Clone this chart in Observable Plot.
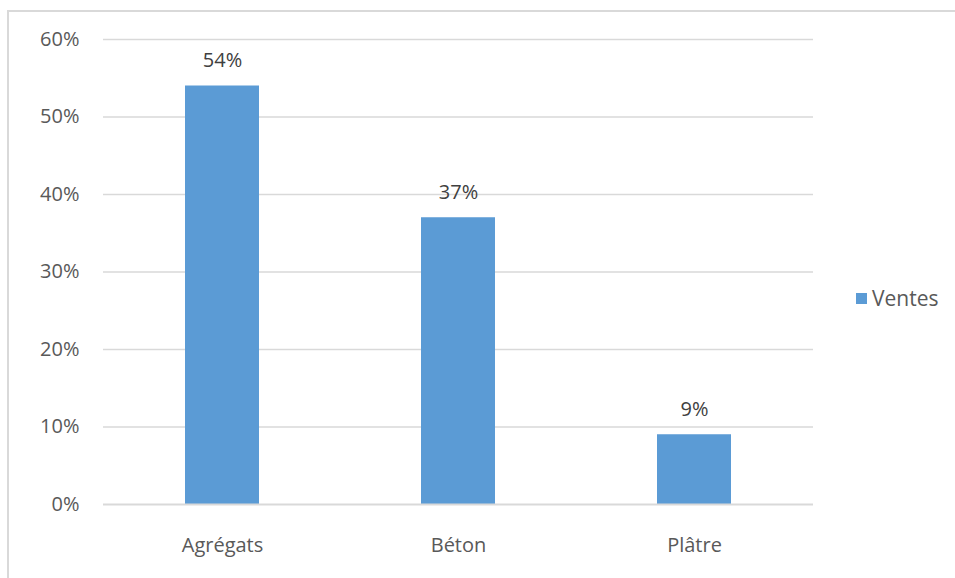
<!DOCTYPE html>
<html><head><meta charset="utf-8">
<script src="https://cdn.jsdelivr.net/npm/d3@7"></script>
<script src="https://cdn.jsdelivr.net/npm/@observablehq/plot@0.6"></script>
<style>
body{margin:0;background:#fff;font-family:"Open Sans",sans-serif;}
#wrap{position:relative;width:955px;height:578px;overflow:hidden;}
#chart{position:absolute;left:0;top:0;}
#border{position:absolute;left:7px;top:10px;width:1000px;height:700px;border:2px solid #d9d9d9;box-sizing:border-box;}
#legend{position:absolute;left:856px;top:284px;font-size:21px;line-height:28px;color:#595959;display:flex;align-items:center;}
#legend span.sw{display:inline-block;width:11px;height:11px;background:#5B9BD5;margin-right:5px;}
</style></head>
<body><div id="wrap"><div id="border"></div><div id="chart"></div><div id="legend"><span class="sw"></span>Ventes</div></div>
<script>
const categories = ["Agrégats", "Béton", "Plâtre"];
const values = [0.54, 0.37, 0.09];
const yTicks = [0, 0.1, 0.2, 0.3, 0.4, 0.5, 0.6];
const seriesName = "Ventes";
const data = categories.map((c, i) => ({cat: c, v: values[i]}));
const pct = d3.format(".0%");
const chart = Plot.plot({
  width: 955, height: 578,
  marginLeft: 103, marginRight: 142, marginTop: 39, marginBottom: 74,
  style: {fontFamily: "'Open Sans', sans-serif", background: "transparent", overflow: "visible"},
  x: {domain: categories, paddingInner: 0.687, paddingOuter: 0.3435},
  y: {domain: [0, 0.6]},
  marks: [
    Plot.gridY(yTicks.filter(t => t > 0), {stroke: "#d9d9d9", strokeOpacity: 1, strokeWidth: 1.3}),
    Plot.barY(data, {x: "cat", y: "v", fill: "#5B9BD5"}),
    Plot.ruleY([0], {stroke: "#d9d9d9", strokeWidth: 2}),
    Plot.axisY({ticks: yTicks, tickFormat: pct, label: null, tickSize: 0, tickPadding: 24, fontSize: 20, fill: "#595959"}),
    Plot.axisX({label: null, tickSize: 0, tickPadding: 33, fontSize: 20, fill: "#595959"}),
    Plot.text(data, {x: "cat", y: "v", text: d => pct(d.v), lineAnchor: "bottom", dy: -19, fill: "#404040", fontSize: 20})
  ]
});
document.getElementById("chart").appendChild(chart);
</script></body></html>
